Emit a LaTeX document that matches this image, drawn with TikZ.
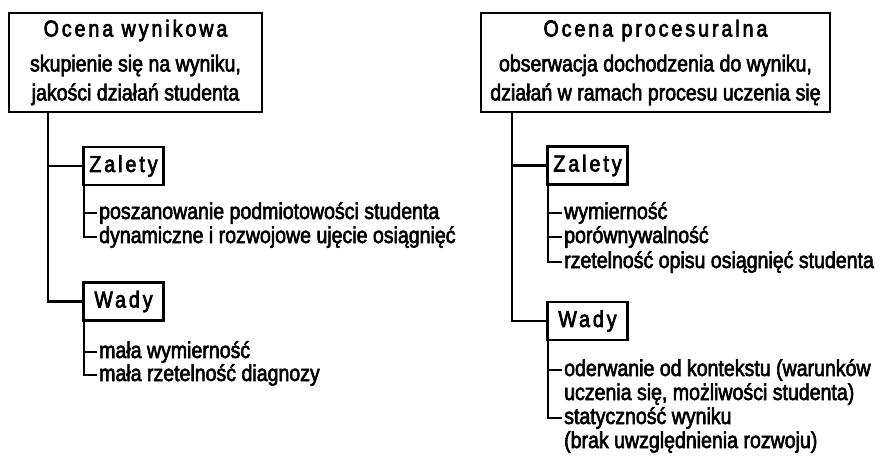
\documentclass[tikz,border=0pt]{standalone}
\usepackage{fontspec}
\setmainfont[FakeStretch=0.85,FakeBold=2.6]{Liberation Sans}
\newfontfamily\spacedfont[FakeStretch=0.85,FakeBold=3,LetterSpace=13]{Liberation Sans}
\usetikzlibrary{positioning}

\tikzset{
  headbox/.style={draw, line width=2.4pt, outer sep=0pt, inner sep=0pt, align=center, minimum height=99pt, font=\fontsize{23}{29}\selectfont},
  tagbox/.style={draw, line width=2.4pt, outer sep=0pt, inner sep=0pt, minimum width=80pt, minimum height=38pt, font=\spacedfont\fontsize{23}{24}\selectfont},
  item/.style={anchor=west, inner sep=2pt, text height=17pt, text depth=5pt, font=\fontsize{23}{24}\selectfont},
  trunk/.style={line width=2.6pt},
  rail/.style={line width=2pt},
}

\begin{document}
\begin{tikzpicture}[x=1pt, y=-1pt]
    \useasboundingbox (0,0) rectangle (880,458);

    % Left column: ocena wynikowa
    \node[headbox, minimum width=253pt] (wynik) at (135.5,62.5) {{\spacedfont Ocena wynikowa}\\[6pt] skupienie się na wyniku,\\ jakości działań studenta};
    \coordinate (wynikT) at ([xshift=39pt]wynik.south west);
    \node[tagbox] (zaletyW) at (123.5,166) {Zalety};
    \node[tagbox] (wadyW) at (123.5,301.5) {Wady};
    \draw[trunk] (wynikT) |- (wadyW.west);
    \draw[trunk] (zaletyW.west -| wynikT) -- (zaletyW.west);

    % zalety
    \node[item] (zw1) at (97,213) {poszanowanie podmiotowości studenta};
    \node[item] (zw2) at (97,237) {dynamiczne i rozwojowe ujęcie osiągnięć};
    \draw[rail] (zaletyW.south west) |- (zw2.west);
    \draw[rail] (zw1.west -| zaletyW.west) -- (zw1.west);

    % wady
    \node[item] (ww1) at (97,352) {mała wymierność};
    \node[item] (ww2) at (97,375) {mała rzetelność diagnozy};
    \draw[rail] (wadyW.south west) |- (ww2.west);
    \draw[rail] (ww1.west -| wadyW.west) -- (ww1.west);

    % Right column: ocena procesuralna
    \node[headbox, minimum width=349pt] (proces) at (655.5,62.5) {{\spacedfont Ocena procesuralna}\\[6pt] obserwacja dochodzenia do wyniku,\\ działań w ramach procesu uczenia się};
    \coordinate (procesT) at ([xshift=31pt]proces.south west);
    \node[tagbox] (zaletyP) at (587.5,165.5) {Zalety};
    \node[tagbox] (wadyP) at (587.5,321) {Wady};
    \draw[trunk] (procesT) |- (wadyP.west);
    \draw[trunk] (zaletyP.west -| procesT) -- (zaletyP.west);

    % zalety
    \node[item] (zp1) at (562,213) {wymierność};
    \node[item] (zp2) at (562,237) {porównywalność};
    \node[item] (zp3) at (562,262) {rzetelność opisu osiągnięć studenta};
    \draw[rail] (zaletyP.south west) |- (zp3.west);
    \draw[rail] (zp1.west -| zaletyP.west) -- (zp1.west);
    \draw[rail] (zp2.west -| zaletyP.west) -- (zp2.west);

    % wady
    \node[item] (wp1) at (562,370) {oderwanie od kontekstu (warunków};
    \node[item] (wp1b) at (562,394) {uczenia się, możliwości studenta)};
    \node[item] (wp2) at (562,418) {statyczność wyniku};
    \node[item] (wp2b) at (562,442) {(brak uwzględnienia rozwoju)};
    \draw[rail] (wadyP.south west) |- (wp2.west);
    \draw[rail] (wp1.west -| wadyP.west) -- (wp1.west);
\end{tikzpicture}
\end{document}
